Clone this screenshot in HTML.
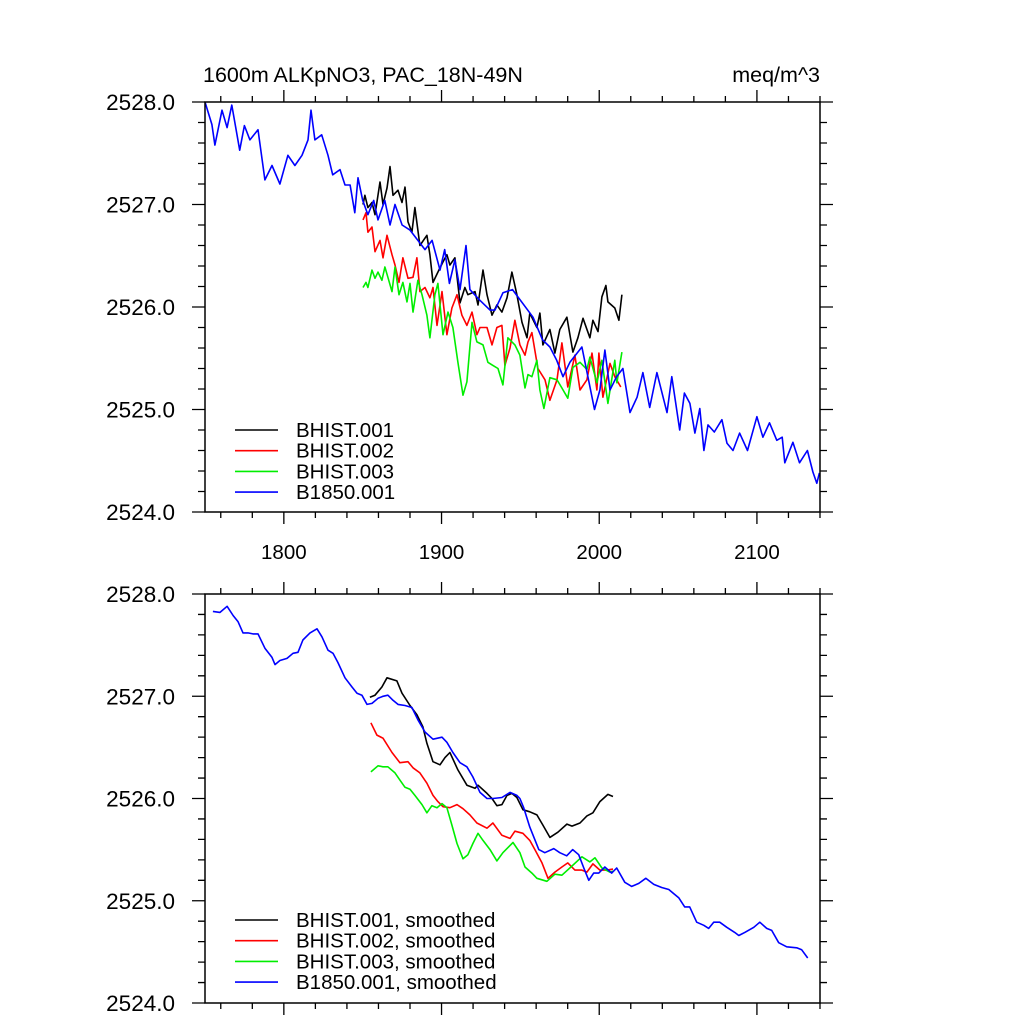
<!DOCTYPE html>
<html><head><meta charset="utf-8"><style>
body{margin:0;background:#fff}
svg text{font-family:"Liberation Sans",sans-serif;fill:#000}
</style></head><body>
<svg id="chart" width="1024" height="1024" viewBox="0 0 1024 1024" xmlns="http://www.w3.org/2000/svg">
<text x="203" y="82" font-size="21.5">1600m ALKpNO3, PAC_18N-49N</text>
<text x="820" y="82" font-size="21.5" text-anchor="end">meq/m^3</text>
<g id="p1"></g>
<g id="p2"></g>
</svg>
<script>
const xTickLabels = [1800, 1900, 2000, 2100];
const yTickLabels = ["2524.0", "2525.0", "2526.0", "2527.0", "2528.0"];
const seriesNames = ["BHIST.001", "BHIST.002", "BHIST.003", "B1850.001"];
const seriesColors = ["#000000", "#ff0000", "#00ee00", "#0000ff"];

const b1850Years = [1750,1754.4,1756.3,1760.8,1764,1767,1772,1775,1778.5,1783.6,1788,1792.5,1797.5,1802.6,1807,1811.5,1815.3,1817.2,1819.7,1824,1828,1831,1835.6,1838.8,1842,1845,1847,1850,1853.3,1857,1859.7,1864,1867.3,1870.5,1875,1880,1885,1889.5,1894,1899,1902,1905,1908.5,1911.7,1915.5,1918,1924,1930.7,1933.9,1939,1945,1958,1964,1968.7,1973,1977,1981.4,1989,1992.8,1997,2000.4,2003.6,2006.8,2011,2015,2019.5,2024,2027.7,2032,2036.6,2043,2046,2051,2054,2057.5,2060.7,2063.8,2066.4,2069,2073,2077.8,2081,2084.8,2089,2094,2100,2103.8,2108,2112.6,2116,2117.7,2122.8,2127,2132,2135.5,2138,2139.6];
const b1850Vals = [2528.0,2527.78,2527.58,2527.92,2527.75,2527.97,2527.53,2527.77,2527.63,2527.73,2527.24,2527.38,2527.2,2527.48,2527.38,2527.48,2527.63,2527.92,2527.63,2527.68,2527.48,2527.29,2527.34,2527.19,2527.19,2526.92,2527.26,2527.04,2526.9,2527.04,2526.85,2527.04,2526.8,2527.0,2526.8,2526.75,2526.65,2526.56,2526.65,2526.36,2526.56,2526.23,2526.46,2526.17,2526.6,2526.17,2526.07,2525.97,2525.97,2526.14,2526.17,2525.90,2525.68,2525.61,2525.48,2525.32,2525.46,2525.61,2525.32,2525.0,2525.19,2525.58,2525.19,2525.32,2525.40,2524.97,2525.12,2525.36,2525.02,2525.36,2524.97,2525.32,2524.80,2525.16,2525.06,2524.77,2525.01,2524.60,2524.85,2524.78,2524.90,2524.67,2524.60,2524.77,2524.60,2524.93,2524.73,2524.87,2524.70,2524.73,2524.48,2524.68,2524.48,2524.60,2524.39,2524.28,2524.38];

const h001Years = [1850.2,1851.4,1853.3,1855.9,1857.8,1861,1862.9,1865.4,1867.3,1869.2,1872.4,1874.9,1876.8,1878.7,1881.2,1883.1,1886.3,1890.7,1892.6,1894.6,1897.7,1900.9,1903.4,1905.3,1908.5,1911.7,1914.8,1916.7,1921.2,1923.1,1926.3,1928.8,1932,1935.1,1938.3,1941.5,1944.6,1947.8,1951,1954.2,1956,1960.5,1962.4,1964.3,1968.7,1971.9,1975,1979.5,1983.3,1986.5,1989.7,1994.1,1996,1999.2,2001.7,2004.2,2005.5,2009.9,2012.5,2014.4];
const h001Vals = [2527.0,2527.09,2526.97,2527.02,2526.90,2527.22,2527.0,2527.16,2527.37,2527.09,2527.14,2527.02,2527.17,2526.83,2526.73,2526.97,2526.60,2526.70,2526.51,2526.24,2526.34,2526.44,2526.51,2526.41,2526.48,2526.04,2526.19,2526.12,2526.15,2526.02,2526.36,2526.12,2525.92,2526.02,2525.95,2526.09,2526.34,2526.12,2525.85,2525.70,2525.94,2525.80,2525.94,2525.63,2525.78,2525.55,2525.78,2525.90,2525.56,2525.70,2525.89,2525.70,2525.87,2525.76,2526.10,2526.21,2526.05,2525.99,2525.87,2526.12];

const h002Years = [1850.2,1852.1,1853.3,1855.9,1857.8,1861,1862.9,1865.4,1868.6,1870.5,1873,1875.5,1878.7,1881.9,1884.4,1886.3,1889.5,1892.6,1894.6,1897.1,1900.3,1903.4,1906.6,1909.8,1912.9,1916.1,1919.3,1922.4,1924.4,1928.8,1932,1935.1,1938.3,1940.2,1943.4,1946.5,1949.7,1952.9,1954.8,1957.3,1961.1,1965.6,1968.7,1973.2,1976.3,1980.1,1984.6,1987.8,1992.2,1995.4,1998.5,1999.8,2002.3,2006.8,2009.9,2013.7];
const h002Vals = [2526.85,2526.92,2526.73,2526.78,2526.54,2526.65,2526.48,2526.70,2526.51,2526.41,2526.24,2526.48,2526.28,2526.29,2526.48,2526.15,2526.19,2526.09,2526.19,2525.82,2526.15,2525.73,2525.99,2526.12,2525.92,2525.82,2525.95,2525.73,2525.80,2525.80,2525.63,2525.80,2525.82,2525.43,2525.60,2525.87,2525.63,2525.53,2525.66,2525.75,2525.40,2525.29,2525.09,2525.29,2525.65,2525.22,2525.53,2525.19,2525.29,2525.55,2525.19,2525.55,2525.12,2525.45,2525.32,2525.22];

const h003Years = [1850.2,1852.1,1853.3,1855.9,1857.8,1859.7,1862.2,1864.1,1866,1868.6,1870.5,1873,1875.5,1878.1,1880,1881.9,1885,1887.6,1890.7,1892.6,1895.8,1897.7,1900.9,1904.1,1907.2,1910.4,1913.6,1916.1,1919.3,1922.4,1926.3,1929.4,1932.6,1935.8,1938.9,1942.1,1946.5,1949.7,1952.9,1954.8,1957.3,1960.5,1962.4,1964.9,1968.7,1973.2,1976.3,1980.1,1983.3,1987.8,1992.2,1994.1,1998.5,2001.7,2005.5,2009.9,2011.2,2014.4];
const h003Vals = [2526.19,2526.24,2526.19,2526.36,2526.28,2526.34,2526.26,2526.39,2526.29,2526.15,2526.39,2526.12,2526.24,2526.05,2526.23,2525.95,2526.26,2526.12,2525.92,2525.70,2526.12,2526.23,2525.73,2525.95,2525.80,2525.46,2525.14,2525.27,2525.85,2525.66,2525.63,2525.46,2525.43,2525.40,2525.24,2525.70,2525.63,2525.53,2525.21,2525.34,2525.32,2525.48,2525.19,2525.01,2525.31,2525.29,2525.21,2525.11,2525.41,2525.46,2525.39,2525.51,2525.26,2525.48,2525.06,2525.48,2525.26,2525.56];

const sB1850Years = [1755,1759.5,1764,1767.8,1770.9,1774.1,1777.3,1780.4,1783.6,1788,1792.5,1794.4,1797.5,1802,1805.8,1809,1812.1,1816.6,1821,1824.2,1828,1831.2,1834.3,1838.8,1843.2,1846.4,1849.5,1852.7,1855.9,1859.7,1862.9,1866,1869.2,1872.4,1876.8,1881.2,1885,1889.5,1894.6,1900.3,1903.4,1907.2,1911.7,1916.1,1919.9,1924.4,1928.8,1932.6,1938.3,1943.4,1947.8,1949.7,1952.1,1956,1961.7,1965.5,1971.2,1975,1979.4,1983.2,1987,1990.2,1993.4,1996.5,1999.7,2003.5,2007.9,2011.1,2016.2,2020.6,2025.1,2029.5,2034.6,2039.6,2044.1,2047.2,2050.4,2054.2,2057.4,2061.8,2066.3,2069.4,2072.6,2076.4,2080.9,2085.9,2088.5,2092.3,2098,2101.8,2106.2,2109.4,2113.8,2118.9,2125.2,2128.4,2132.2];
const sB1850Vals = [2527.83,2527.82,2527.88,2527.79,2527.73,2527.62,2527.62,2527.61,2527.61,2527.47,2527.38,2527.31,2527.35,2527.37,2527.42,2527.43,2527.55,2527.62,2527.66,2527.58,2527.45,2527.42,2527.33,2527.18,2527.09,2527.03,2527.01,2526.92,2526.93,2526.98,2527.0,2527.01,2526.96,2526.92,2526.91,2526.89,2526.77,2526.65,2526.58,2526.60,2526.55,2526.45,2526.35,2526.31,2526.21,2526.06,2526.0,2526.0,2526.01,2526.06,2526.03,2526.0,2525.91,2525.72,2525.50,2525.47,2525.51,2525.47,2525.44,2525.50,2525.45,2525.32,2525.20,2525.27,2525.27,2525.33,2525.27,2525.32,2525.18,2525.14,2525.17,2525.22,2525.16,2525.13,2525.11,2525.07,2525.03,2524.94,2524.94,2524.79,2524.76,2524.73,2524.79,2524.79,2524.74,2524.69,2524.66,2524.69,2524.74,2524.79,2524.73,2524.71,2524.59,2524.55,2524.54,2524.52,2524.44];

const s001Years = [1854.6,1857.8,1862.2,1865.4,1871.7,1874.9,1880,1884.4,1888.2,1890.7,1894.6,1899,1902.2,1905.3,1910.4,1916.1,1921.2,1923.1,1928.8,1932,1935.1,1938.3,1941.5,1944.6,1947.8,1951.6,1956,1960.5,1964.3,1968.7,1973.8,1979.5,1982.7,1987.8,1992.2,1996,2000.4,2005.5,2008.7];
const s001Vals = [2526.99,2527.01,2527.09,2527.18,2527.15,2527.03,2526.91,2526.82,2526.70,2526.54,2526.36,2526.33,2526.40,2526.45,2526.28,2526.13,2526.10,2526.13,2526.05,2526.0,2525.93,2525.94,2526.03,2526.05,2526.01,2525.89,2525.87,2525.84,2525.74,2525.62,2525.67,2525.75,2525.73,2525.76,2525.83,2525.86,2525.97,2526.04,2526.02];

const s002Years = [1855.2,1859,1862.9,1868.6,1873.6,1878.7,1881.9,1886.3,1890.7,1894.6,1897.7,1900.9,1905.3,1909.8,1913.6,1918,1922.4,1928.8,1932.6,1938.3,1943.4,1946.5,1951.6,1956,1959.2,1963.7,1967.5,1971.9,1976.3,1980.1,1984.6,1989,1992.2,1996,2000.4,2004.9,2008.7];
const s002Vals = [2526.74,2526.62,2526.59,2526.45,2526.35,2526.36,2526.30,2526.25,2526.15,2526.03,2525.97,2525.92,2525.91,2525.94,2525.90,2525.84,2525.76,2525.71,2525.76,2525.64,2525.61,2525.68,2525.66,2525.59,2525.50,2525.37,2525.22,2525.28,2525.33,2525.37,2525.30,2525.30,2525.28,2525.36,2525.30,2525.30,2525.31];

const s003Years = [1855.2,1859.7,1862.9,1866,1870.5,1873.6,1876.8,1880,1883.1,1887.6,1890.7,1893.9,1897.1,1900.3,1903.4,1906.6,1909.8,1913.6,1916.7,1919.9,1923.1,1926.3,1930.7,1935.1,1938.9,1945.3,1949.7,1952.9,1957.3,1960.5,1966.8,1971.9,1976.3,1982.7,1989,1994.1,1997.3,2001.7,2006.8,2008.7];
const s003Vals = [2526.26,2526.32,2526.31,2526.31,2526.25,2526.18,2526.11,2526.09,2526.03,2525.94,2525.86,2525.93,2525.91,2525.95,2525.91,2525.74,2525.56,2525.41,2525.45,2525.56,2525.66,2525.59,2525.50,2525.39,2525.47,2525.57,2525.47,2525.33,2525.27,2525.22,2525.19,2525.26,2525.25,2525.34,2525.43,2525.38,2525.42,2525.32,2525.28,2525.29];

const NS = "http://www.w3.org/2000/svg";
const X0 = 205, X1 = 820, YR0 = 1750, YR1 = 2140;
function xs(yr){ return X0 + (yr - YR0) / (YR1 - YR0) * (X1 - X0); }
function mk(tag, attrs, parent){ const e = document.createElementNS(NS, tag); for (const k in attrs) e.setAttribute(k, attrs[k]); parent.appendChild(e); return e; }

function panel(g, top, bottom, series, legendNames, legendY0, showXLabels){
  const ys = v => bottom - (v - 2524) / 4 * (bottom - top);
  series.forEach((s, i) => {
    const d = s[0].map((yr, j) => (j ? "L" : "M") + xs(yr).toFixed(1) + "," + ys(s[1][j]).toFixed(1)).join("");
    const p = mk("path", {d: d, fill: "none", stroke: seriesColors[i], "stroke-width": 1.6, "stroke-linejoin": "round"}, g);
    
    
  });
  const fr = mk("rect", {x: X0, y: top, width: X1 - X0, height: bottom - top, fill: "none", stroke: "#000", "stroke-width": 1.5}, g);
  
  
  let ticks = "";
  for (let v = 2524; v <= 2528.001; v += 0.2) {
    const y = ys(v); const major = Math.abs(v - Math.round(v)) < 0.01; const L = major ? 13 : 7;
    ticks += `M${X0},${y}H${X0 - L}M${X1},${y}H${X1 + L}`;
  }
  for (let yr = 1760; yr <= 2140; yr += 20) {
    const x = xs(yr); const L = yr % 100 === 0 ? 12 : 6;
    ticks += `M${x},${bottom}V${bottom + L}M${x},${top}V${top - L}`;
  }
  const tk = mk("path", {d: ticks, stroke: "#000", "stroke-width": 1.3, fill: "none"}, g);
  
  
  yTickLabels.forEach((lab, i) => {
    const t = mk("text", {x: 175, y: ys(2524 + i) + 8, "font-size": 22.5, "text-anchor": "end"}, g);
    t.textContent = lab;
    
    
  });
  if (showXLabels) xTickLabels.forEach(lab => {
    const t = mk("text", {x: xs(lab), y: 559, "font-size": 20.5, "text-anchor": "middle"}, g);
    t.textContent = lab;
    
    
  });
  legendNames.forEach((nm, i) => {
    const y = legendY0 + i * 20.7;
    const l = mk("line", {x1: 235, x2: 278, y1: y, y2: y, stroke: seriesColors[i], "stroke-width": 1.6}, g);
    
    
    const t = mk("text", {x: 296, y: y + 7, "font-size": 20.5}, g);
    t.textContent = nm;
    
    
  });
}
panel(document.getElementById("p1"), 102, 512,
  [[h001Years, h001Vals], [h002Years, h002Vals], [h003Years, h003Vals], [b1850Years, b1850Vals]],
  seriesNames, 430, true);
panel(document.getElementById("p2"), 594, 1003,
  [[s001Years, s001Vals], [s002Years, s002Vals], [s003Years, s003Vals], [sB1850Years, sB1850Vals]],
  seriesNames.map(n => n + ", smoothed"), 920, false);
</script>
</body></html>
